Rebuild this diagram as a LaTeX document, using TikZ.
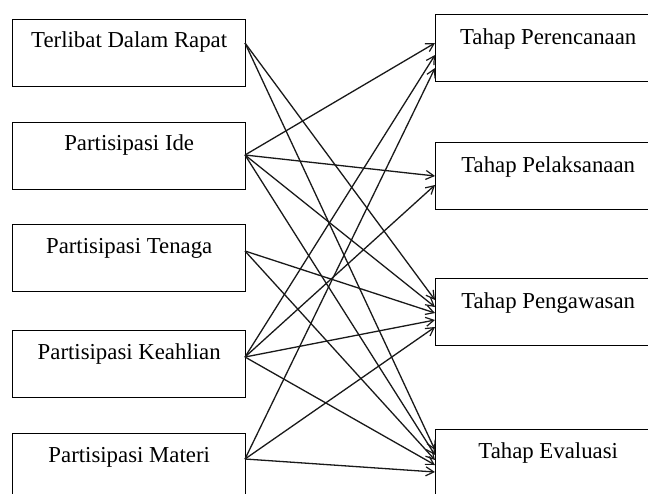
\documentclass[tikz,border=0pt]{standalone}
\usepackage{fontspec}
\setmainfont{Liberation Serif}
\usetikzlibrary{arrows.meta,calc}
\begin{document}
\begin{tikzpicture}[x=1pt,y=-1pt,
  lbox/.style={draw=black,line width=1.4pt,rectangle,anchor=north west,minimum width=233pt,minimum height=67pt,inner sep=0pt},
  rbox/.style={draw=black,line width=1.4pt,rectangle,anchor=north west,minimum width=225pt,minimum height=67pt,inner sep=0pt},
  txt/.style={anchor=base,inner sep=0pt,font=\fontsize{22.8}{27}\selectfont,text=black},
  conn/.style={draw=black!90,line width=1.3pt,-{Straight Barb[length=8pt,width=9pt,line width=1.2pt]}}]
\fill[white] (0,0) rectangle (648,493);
\useasboundingbox (0,0) rectangle (648,493);
\clip (0,0) rectangle (648,493);
% left boxes
\node[lbox] (ter) at (12,19) {};
\node[lbox] (ide) at (12,122) {};
\node[lbox] (ten) at (12,224) {};
\node[lbox] (kea) at (12,330) {};
\node[lbox] (mat) at (12,433) {};
% right boxes
\node[rbox] (per) at (435,14) {};
\node[rbox] (pel) at (435,142) {};
\node[rbox] (pen) at (435,278) {};
\node[rbox] (eva) at (435,429) {};
% texts
\node[txt] (terT) at ($(ter.north)+(0,28)$) {Terlibat Dalam Rapat};
\node[txt] (ideT) at ($(ide.north)+(0,28)$) {Partisipasi Ide};
\node[txt] (tenT) at ($(ten.north)+(0,29)$) {Partisipasi Tenaga};
\node[txt] (keaT) at ($(kea.north)+(0,29)$) {Partisipasi Keahlian};
\node[txt] (matT) at ($(mat.north)+(0,29)$) {Partisipasi Materi};
\node[txt] (perT) at ($(per.north)+(0,30)$) {Tahap Perencanaan};
\node[txt] (pelT) at ($(pel.north)+(0,30)$) {Tahap Pelaksanaan};
\node[txt] (penT) at ($(pen.north)+(0,30)$) {Tahap Pengawasan};
\node[txt] (evaT) at ($(eva.north)+(0,29)$) {Tahap Evaluasi};
% connector end points
\coordinate (terO) at (245,43);
\coordinate (ideO) at (245,155);
\coordinate (tenO) at (245,251);
\coordinate (keaO) at (245,357);
\coordinate (matO) at (245,459);
\coordinate (per1) at (435,43);
\coordinate (per2) at (435,55);
\coordinate (per3) at (435,68);
\coordinate (pel1) at (435,176);
\coordinate (pel2) at (435,185);
\coordinate (pen1) at (435,300);
\coordinate (pen2) at (435,307);
\coordinate (pen3) at (435,313);
\coordinate (pen4) at (435,320);
\coordinate (pen5) at (435,327);
\coordinate (eva1) at (435,450);
\coordinate (eva2) at (435,455);
\coordinate (eva3) at (435,460);
\coordinate (eva4) at (435,465);
\coordinate (eva5) at (435,472);
% connectors
\draw[conn] (terO) -- (pen1);
\draw[conn] (terO) -- (eva1);
\draw[conn] (ideO) -- (per1);
\draw[conn] (ideO) -- (pel1);
\draw[conn] (ideO) -- (pen2);
\draw[conn] (ideO) -- (eva2);
\draw[conn] (tenO) -- (pen3);
\draw[conn] (tenO) -- (eva3);
\draw[conn] (keaO) -- (per2);
\draw[conn] (keaO) -- (pel2);
\draw[conn] (keaO) -- (pen4);
\draw[conn] (keaO) -- (eva4);
\draw[conn] (matO) -- (per3);
\draw[conn] (matO) -- (pen5);
\draw[conn] (matO) -- (eva5);
\end{tikzpicture}
\end{document}
